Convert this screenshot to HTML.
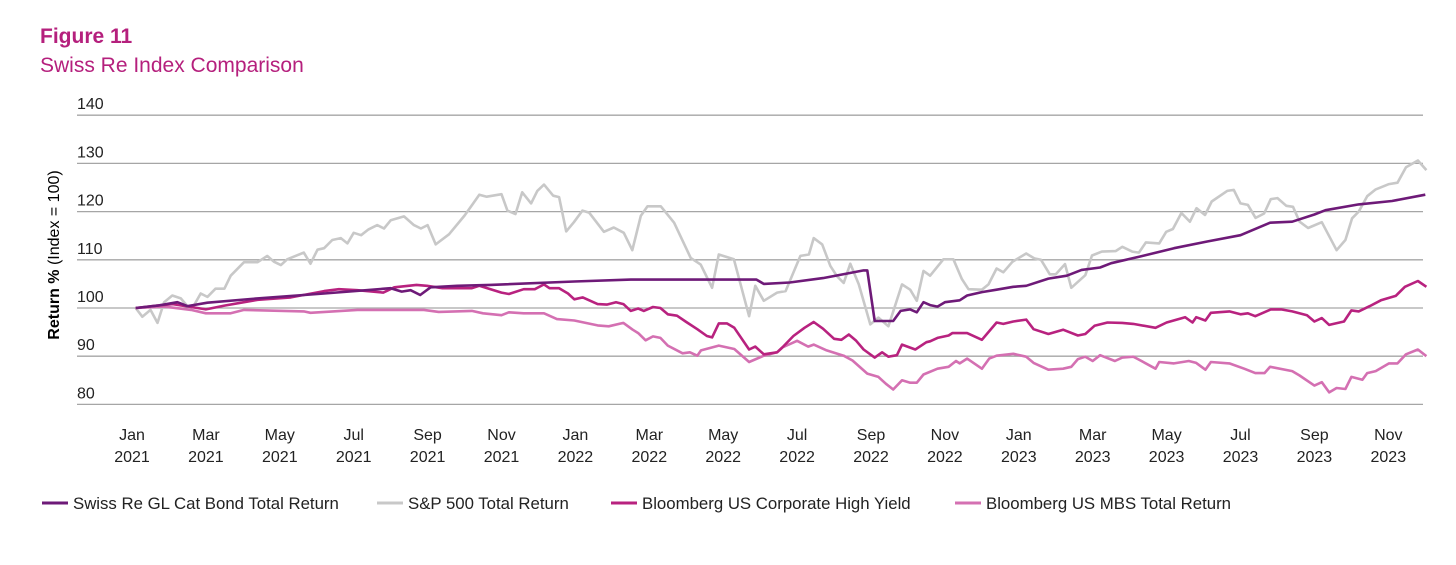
<!DOCTYPE html>
<html><head><meta charset="utf-8"><style>
body{margin:0;background:#fff;width:1456px;height:560px;overflow:hidden;font-family:"Liberation Sans",sans-serif}
svg text{font-family:"Liberation Sans",sans-serif}
</style></head><body>
<svg id="chart" width="1456" height="560" xmlns="http://www.w3.org/2000/svg">
<text x="40" y="43" font-size="21" font-weight="bold" fill="#b5207d">Figure 11</text>
<text x="40" y="72" font-size="21" fill="#b5207d">Swiss Re Index Comparison</text>
<text transform="translate(59,255) rotate(-90)" text-anchor="middle" font-size="16" fill="#000"><tspan font-weight="bold">Return %</tspan> (Index = 100)</text>
<g id="grid"></g><g id="xt"></g><g id="series"></g><g id="legend"></g>
</svg>
<script>
const yTicks=[80,90,100,110,120,130,140];
const xLabels=[["Jan","2021"],["Mar","2021"],["May","2021"],["Jul","2021"],["Sep","2021"],["Nov","2021"],["Jan","2022"],["Mar","2022"],["May","2022"],["Jul","2022"],["Sep","2022"],["Nov","2022"],["Jan","2023"],["Mar","2023"],["May","2023"],["Jul","2023"],["Sep","2023"],["Nov","2023"]];
const seriesNames=["Swiss Re GL Cat Bond Total Return","S&P 500 Total Return","Bloomberg US Corporate High Yield","Bloomberg US MBS Total Return"];
const spM=[0.1,0.28,0.5,0.69,0.87,1.09,1.32,1.54,1.68,1.86,2.04,2.26,2.5,2.67,3.03,3.4,3.66,3.84,4.03,4.2,4.65,4.83,5.02,5.2,5.42,5.65,5.83,6,6.2,6.4,6.64,6.82,7,7.36,7.63,7.82,8,8.22,8.58,9,9.2,9.4,9.6,10,10.16,10.38,10.56,10.8,10.97,11.15,11.4,11.56,11.75,11.96,12.19,12.37,12.77,13.04,13.31,13.54,13.77,13.95,14.31,14.67,15.12,15.39,15.7,15.88,16.29,16.7,16.87,17.1,17.46,17.69,18.09,18.32,18.45,18.68,18.9,19.08,19.26,19.44,19.67,19.98,20.2,20.47,20.84,21.06,21.24,21.42,21.6,21.96,22.23,22.46,22.64,23,23.18,23.4,23.58,23.83,24.2,24.42,24.6,24.84,25,25.25,25.42,25.8,25.98,26.25,26.62,26.8,27.07,27.25,27.44,27.8,27.99,28.17,28.4,28.63,28.81,29.04,29.22,29.64,29.82,30,30.2,30.41,30.64,30.82,31,31.24,31.42,31.6,31.83,32.2,32.6,32.84,33.02,33.2,33.43,33.66,34.02,34.25,34.48,34.8,35.03];
const spV=[100,98.2,99.6,96.9,101.2,102.6,102,100,100.6,103,102.3,104,104,106.7,109.5,109.5,110.8,109.6,108.9,110.1,111.5,109.2,112.1,112.4,114.1,114.5,113.4,115.6,115.1,116.3,117.2,116.5,118.2,119,117.2,116.5,117.2,113.2,115.3,119.2,121.3,123.5,123.1,123.6,120.2,119.5,124,121.7,124.3,125.6,123.3,123,115.9,117.8,120.2,119.8,115.8,116.7,115.6,112,119.1,121.1,121.1,117.7,110.4,109,104.2,111.1,110.1,98.3,104.6,101.5,103.2,103.5,110.8,111.1,114.5,113.2,108.7,106.6,105.2,109.2,104.9,96.6,98,96.2,104.9,103.8,101.5,107.7,106.7,110.1,110.1,106,103.9,103.8,104.9,108.2,107.4,109.6,111.3,110.3,110,107,107,109.1,104.2,106.8,110.9,111.7,111.8,112.7,111.7,111.5,113.6,113.4,115.8,116.4,119.7,117.9,120.7,119.3,122.1,124.3,124.5,121.7,121.4,118.7,119.6,122.6,122.8,121.2,121,117.9,116.6,117.8,112,114.1,118.6,120,123.2,124.6,125.7,126,129.2,130.6,128.6];
const catM=[0.1,0.69,1.23,1.5,2.04,3.4,5.2,7,7.3,7.54,7.8,8.08,8.8,9.7,11.97,13.5,16.9,17.1,17.8,18.7,19.8,19.9,20.1,20.6,20.8,21.06,21.24,21.42,21.6,21.8,22,22.4,22.6,23,23.4,23.85,24.2,24.8,25.3,25.7,26.2,26.5,27.3,28.2,29.1,30,30.8,31.4,32,32.3,33.2,34.1,35];
const catV=[100,100.5,101.2,100.4,101.1,102,103,104.1,103.4,103.7,102.7,104.3,104.6,104.8,105.5,105.9,105.9,105,105.3,106.2,107.8,107.8,97.3,97.3,99.4,99.7,99.1,101.2,100.6,100.3,101.2,101.6,102.6,103.3,103.8,104.4,104.6,106.1,106.7,107.9,108.4,109.3,110.7,112.4,113.8,115.1,117.7,117.9,119.4,120.3,121.5,122.2,123.5];
const hyM=[0.1,0.69,1.1,1.6,2,2.5,3.4,4.3,5.2,5.6,6.1,6.8,7.1,7.7,7.98,8.4,9.2,9.4,10,10.2,10.6,10.9,11.15,11.3,11.56,11.8,11.97,12.2,12.6,12.85,13.1,13.3,13.5,13.7,13.85,14.1,14.3,14.5,14.75,15,15.3,15.56,15.7,15.88,16.1,16.3,16.7,16.87,17.1,17.46,17.6,17.9,18.2,18.45,18.7,19,19.2,19.4,19.6,19.8,20.1,20.3,20.47,20.7,20.84,21.2,21.5,21.6,21.8,22.1,22.2,22.6,23,23.4,23.58,23.85,24.2,24.4,24.8,25.2,25.6,25.8,26.05,26.4,26.8,27.1,27.7,28,28.5,28.7,28.8,29.05,29.2,29.7,30,30.2,30.4,30.82,31.1,31.4,31.8,32,32.2,32.4,32.8,33,33.2,33.5,33.8,34.2,34.45,34.8,35.03];
const hyV=[100,100.5,100.8,100.2,99.7,100.5,101.7,102.2,103.5,103.9,103.7,103.2,104.3,104.8,104.6,104.1,104.1,104.6,103.2,102.9,103.9,103.9,104.9,104.1,104.1,103,101.8,102.2,100.8,100.7,101.2,100.8,99.4,99.9,99.4,100.2,100,98.7,98.4,97.1,95.6,94.2,93.9,96.8,96.8,95.9,91.4,92,90.4,90.8,91.8,94.2,95.9,97.1,95.7,93.6,93.4,94.5,93.2,91.4,89.7,90.8,89.9,90.2,92.4,91.4,92.9,93.1,93.8,94.3,94.8,94.8,93.4,97,96.7,97.2,97.6,95.6,94.6,95.5,94.3,94.6,96.3,97,96.9,96.7,95.9,97,98.1,97,98.1,97.4,99,99.3,98.7,98.9,98.3,99.7,99.7,99.3,98.5,97.2,97.9,96.5,97.2,99.5,99.3,100.4,101.6,102.5,104.4,105.6,104.4];
const mbsM=[0.1,0.87,1.6,2,2.67,3.03,4.65,4.83,6.1,7.9,8.3,9.2,9.5,10,10.2,10.6,11.15,11.5,11.97,12.6,12.9,13.3,13.55,13.7,13.9,14.1,14.3,14.5,14.9,15.1,15.3,15.4,15.88,16.3,16.7,17.1,17.46,17.6,18,18.3,18.45,18.8,19.26,19.5,19.9,20.2,20.4,20.6,20.84,21.06,21.24,21.42,21.8,22.1,22.3,22.4,22.6,23,23.2,23.4,23.85,24.2,24.4,24.8,25.2,25.42,25.6,25.8,26,26.2,26.6,26.8,27.1,27.25,27.7,27.8,28.2,28.6,28.8,29.05,29.2,29.7,30.1,30.4,30.65,30.8,31.4,31.6,32,32.2,32.4,32.6,32.84,33,33.3,33.43,33.66,34.02,34.25,34.48,34.8,35.03];
const mbsV=[100,100.3,99.6,98.9,98.9,99.6,99.3,99,99.6,99.6,99.2,99.4,98.9,98.5,99.1,98.9,98.9,97.7,97.4,96.4,96.2,96.9,95.5,94.8,93.3,94.1,93.8,92.2,90.6,90.8,90.1,91.2,92.2,91.5,88.8,90.1,90.8,91.8,93.2,92,92.4,91.2,90.1,89.1,86.4,85.7,84.3,83.1,85,84.5,84.5,86.2,87.4,87.8,89,88.5,89.5,87.4,89.5,90.1,90.5,89.9,88.6,87.2,87.4,87.8,89.4,89.9,89,90.2,89,89.7,89.9,89.3,87.4,88.8,88.5,89,88.6,87.2,88.8,88.5,87.4,86.5,86.5,87.8,86.9,86,83.9,84.6,82.5,83.4,83.2,85.7,85.1,86.5,86.9,88.5,88.5,90.4,91.4,90];
const NS="http://www.w3.org/2000/svg";
const X=m=>132+m*36.95, Y=v=>308-(v-100)*4.82;
function mk(t,a,p){const e=document.createElementNS(NS,t);for(const k in a)e.setAttribute(k,a[k]);p.appendChild(e);return e;}
const grid=document.getElementById('grid');
yTicks.forEach(v=>{
 const l=mk('line',{x1:77,x2:1423,y1:Y(v),y2:Y(v),stroke:'#a6a6a6','stroke-width':1.3},grid);
 
 
 const t=mk('text',{x:77,y:Y(v)-6,'font-size':16,fill:'#222'},grid);t.textContent=v;
 
 
});
const xt=document.getElementById('xt');
xLabels.forEach((lb,i)=>{
 const t=mk('text',{x:X(i*2),'text-anchor':'middle','font-size':16,fill:'#222'},xt);
 
 
 mk('tspan',{x:X(i*2),y:440},t).textContent=lb[0];
 mk('tspan',{x:X(i*2),y:462},t).textContent=lb[1];
});
const sg=document.getElementById('series');
const defs=[[spM,spV,'#c8c8c8','sp500-line'],[mbsM,mbsV,'#d470b2','mbs-line'],[hyM,hyV,'#b8227f','high-yield-line'],[catM,catV,'#6e1a78','cat-bond-line']];
defs.forEach(d=>{
 const p=mk('polyline',{points:d[0].map((m,i)=>X(m).toFixed(1)+','+Y(d[1][i]).toFixed(1)).join(' '),fill:'none',stroke:d[2],'stroke-width':2.6,'stroke-linejoin':'round'},sg);
 
 
});
const lg=document.getElementById('legend');
const lc=['#6e1a78','#c8c8c8','#b8227f','#d470b2'], lx=[42,377,611,955];
seriesNames.forEach((n,i)=>{
 const g=mk('g',{},lg);
 
 
 mk('line',{x1:lx[i],x2:lx[i]+26,y1:503,y2:503,stroke:lc[i],'stroke-width':3},g);
 const t=mk('text',{x:lx[i]+31,y:509,'font-size':16.8,fill:'#222'},g);t.textContent=n;
});
</script>
</body></html>
